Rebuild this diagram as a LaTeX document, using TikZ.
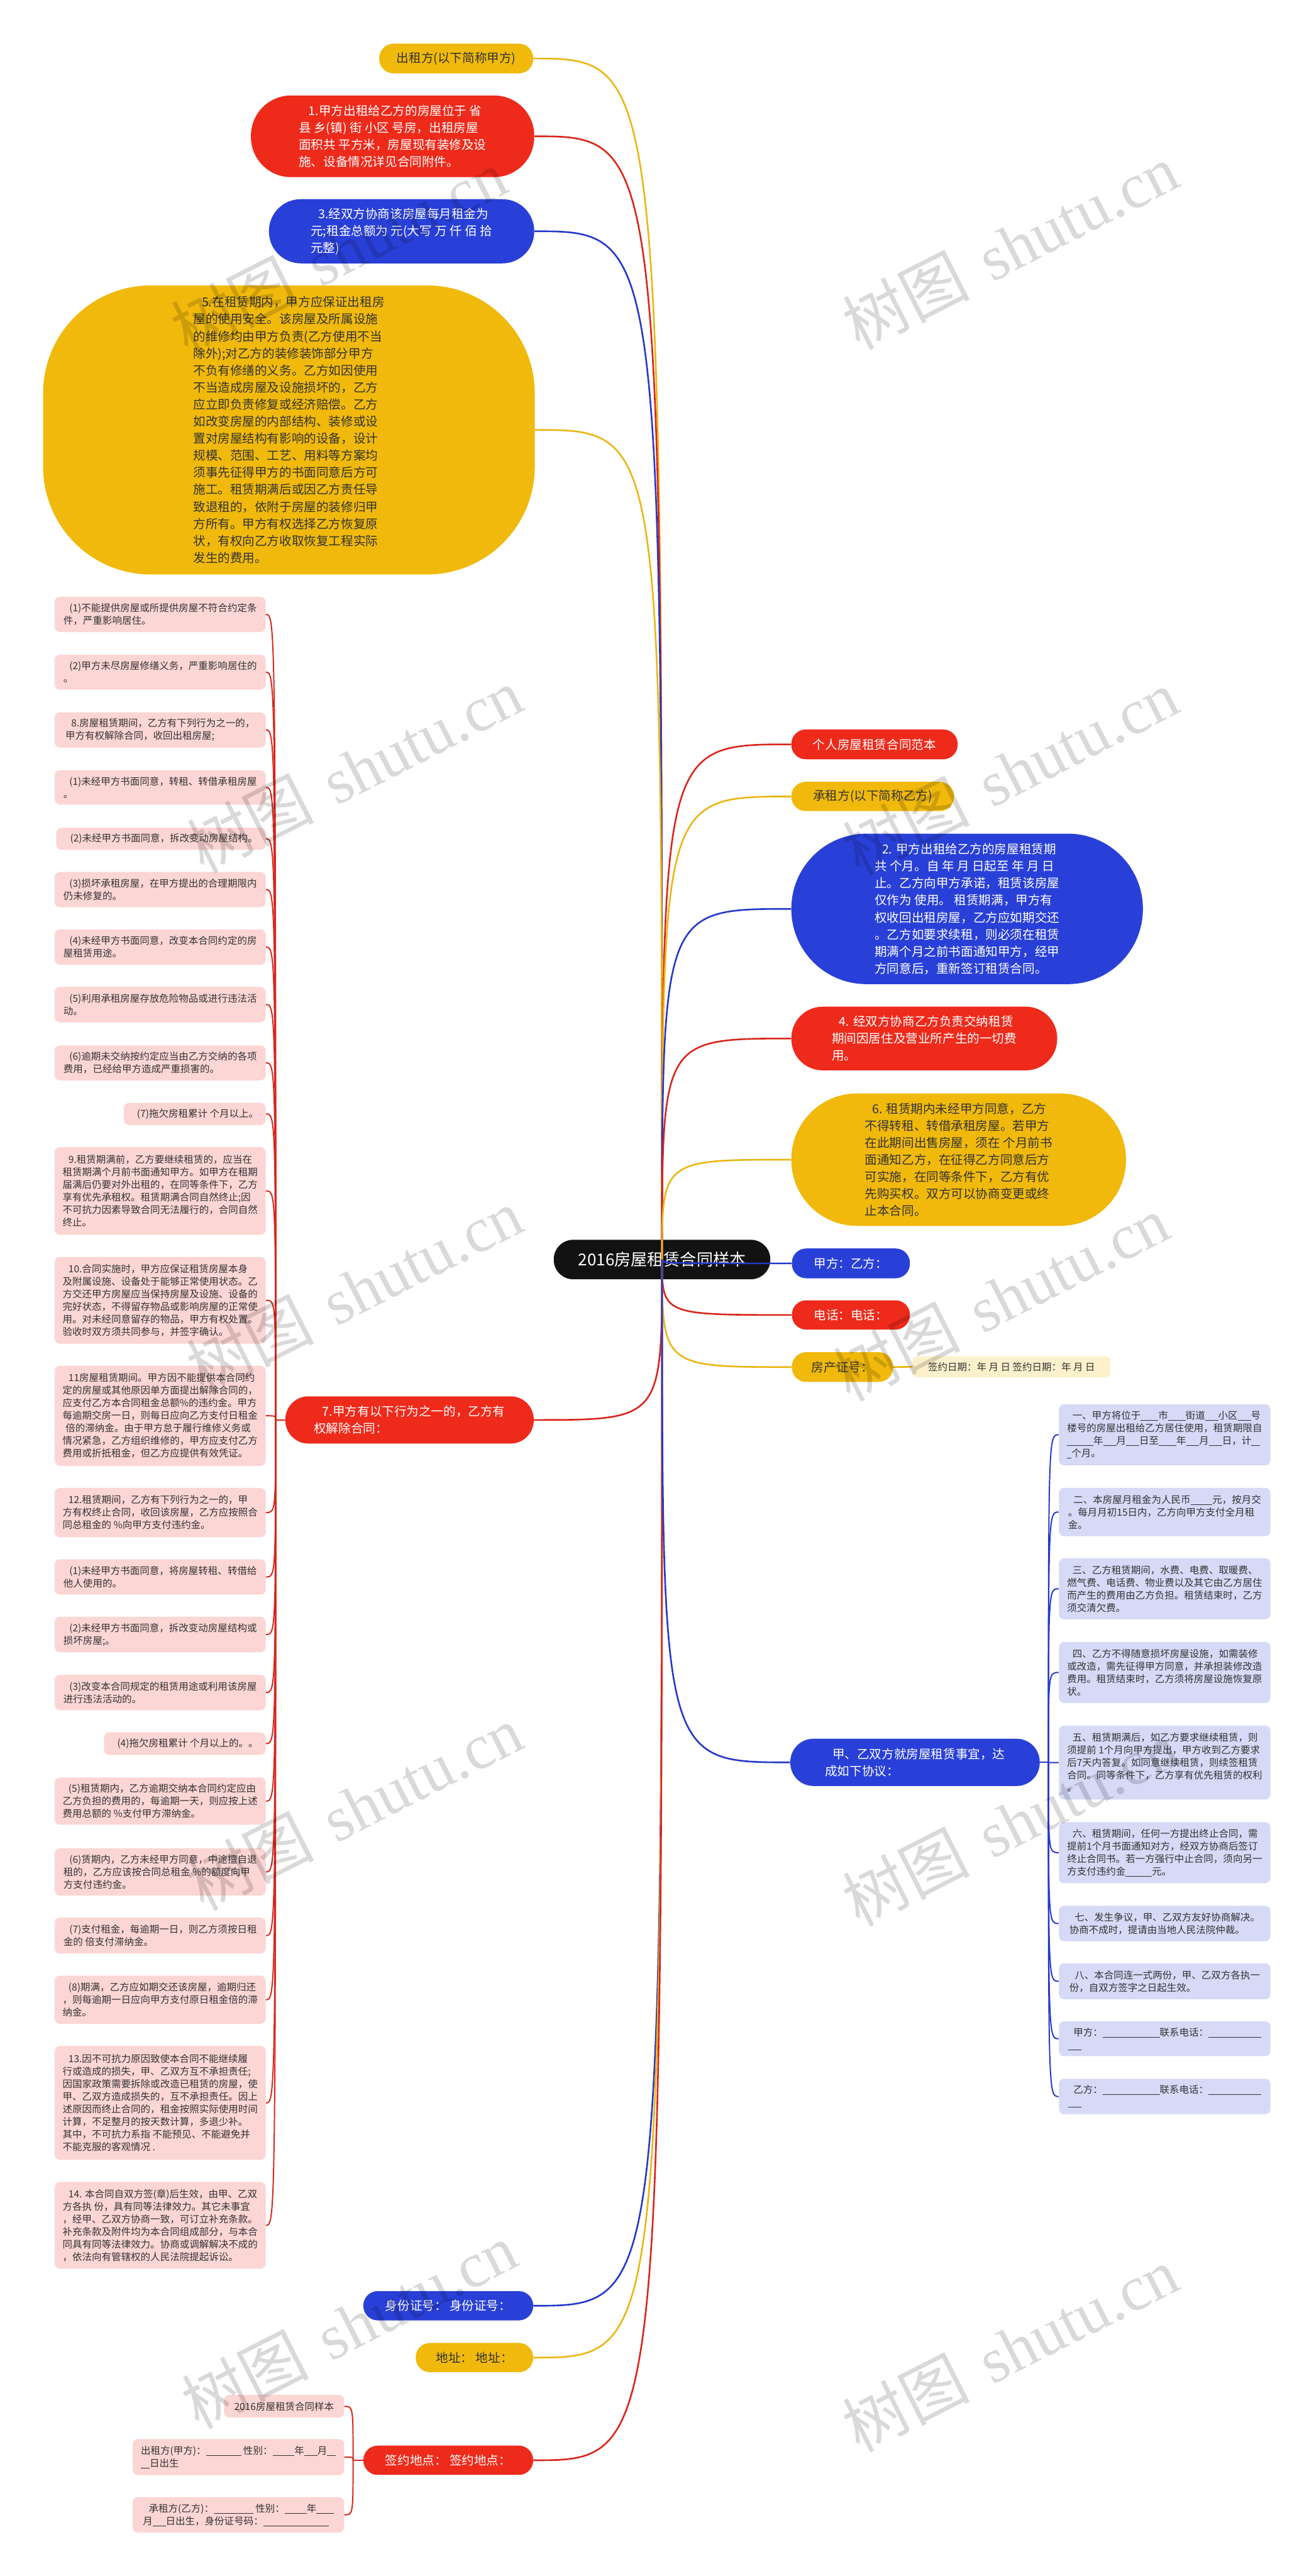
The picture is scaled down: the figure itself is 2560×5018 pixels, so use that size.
\documentclass[tikz,border=0pt]{standalone}
\usepackage{fontspec}
\setmainfont{Noto Sans CJK SC}
\newfontfamily\wmlat{Liberation Serif}
\newcommand\fbig{\fontsize{12pt}{16.6pt}\selectfont}
\newcommand\fsml{\fontsize{9.5pt}{12.25pt}\selectfont}
\newcommand\fctr{\fontsize{16pt}{20pt}\selectfont}
\newlength\bllen
\newcommand\blnk[1]{\setlength\bllen{0.45em}\rule[-0.15em]{#1\bllen}{0.06em}}
\definecolor{cred}{HTML}{EE2A1B}
\definecolor{cblue}{HTML}{2940D8}
\definecolor{cyel}{HTML}{F0B90B}
\definecolor{lred}{HTML}{D9251B}
\definecolor{lblue}{HTML}{2538C8}
\definecolor{lyel}{HTML}{EBB612}
\definecolor{cpink}{HTML}{FCD6D4}
\definecolor{clav}{HTML}{D6DAF7}
\definecolor{cpale}{HTML}{FCF1CC}
\definecolor{ctext}{HTML}{333333}
\pgfdeclarelayer{bg}
\pgfdeclarelayer{mid}
\pgfsetlayers{bg,mid,main}
\tikzset{
  pillnode/.style={inner sep=0pt, align=left, font=\fbig},
  redn/.style={pillnode, fill=cred, text=white},
  bluen/.style={pillnode, fill=cblue, text=white},
  yeln/.style={pillnode, fill=cyel, text=ctext},
  pinkbox/.style={fill=cpink, rounded corners=5pt, inner sep=0pt, align=left, font=\fsml, text=ctext},
  lavbox/.style={pinkbox, fill=clav},
  palebox/.style={pinkbox, fill=cpale},
  mainline/.style={line width=1.6pt},
  subline/.style={line width=1.2pt},
  wm/.style={rotate=27, text=black, opacity=0.15, inner sep=0pt, font=\fontsize{62pt}{62pt}\selectfont}
}
\begin{document}
\begin{tikzpicture}[x=0.5pt,y=-0.5pt]
\useasboundingbox (0,0) rectangle (2560,5018);
\begin{pgfonlayer}{bg}
\fill[white] (0,0) rectangle (2560,5018);
\node[pillnode, fill=black!93, text=white, font=\fctr, minimum width=211pt, minimum height=38.5pt, rounded corners=19pt] (C) at (1290,2453.5) {2016房屋租赁合同样本};
\end{pgfonlayer}

% ---------- first level, left ----------
\node[yeln, minimum width=150pt, minimum height=29pt, rounded corners=14pt] (N0) at (889,114) {出租方(以下简称甲方)};
\node[redn, minimum width=276pt, minimum height=79.5pt, rounded corners=39pt] (N1) at (765,265.5) {\hspace*{0.8em}1.甲方出租给乙方的房屋位于 省\\县 乡(镇) 街 小区 号房，出租房屋\\面积共 平方米，房屋现有装修及设\\施、设备情况详见合同附件。};
\node[bluen, minimum width=258.5pt, minimum height=62.5pt, rounded corners=31pt] (N3) at (782.5,450.5) {\hspace*{0.6em}3.经双方协商该房屋每月租金为\\元;租金总额为 元(大写 万 仟 佰 拾\\元整)};
\node[yeln, minimum width=479pt, minimum height=281.5pt, rounded corners=105pt] (N5) at (563,837.5) {\hspace*{0.7em}5.在租赁期内，甲方应保证出租房\\屋的使用安全。该房屋及所属设施\\的维修均由甲方负责(乙方使用不当\\除外);对乙方的装修装饰部分甲方\\不负有修缮的义务。乙方如因使用\\不当造成房屋及设施损坏的，乙方\\应立即负责修复或经济赔偿。乙方\\如改变房屋的内部结构、装修或设\\置对房屋结构有影响的设备，设计\\规模、范围、工艺、用料等方案均\\须事先征得甲方的书面同意后方可\\施工。租赁期满后或因乙方责任导\\致退租的，依附于房屋的装修归甲\\方所有。甲方有权选择乙方恢复原\\状，有权向乙方收取恢复工程实际\\发生的费用。};
\node[redn, minimum width=242pt, minimum height=46pt, rounded corners=22.5pt] (N7) at (798,2766) {\hspace*{0.7em}7.甲方有以下行为之一的，乙方有\\权解除合同：};
\node[bluen, minimum width=165.5pt, minimum height=28.5pt, rounded corners=14pt] (L1) at (873.5,4491.5) {身份证号： 身份证号：};
\node[yeln, minimum width=114.5pt, minimum height=28.5pt, rounded corners=14pt] (L2) at (924.5,4592.5) {地址： 地址：};
\node[redn, minimum width=165.5pt, minimum height=28.5pt, rounded corners=14pt] (L3) at (873.5,4792.5) {签约地点： 签约地点：};

% ---------- first level, right ----------
\node[redn, minimum width=162pt, minimum height=29pt, rounded corners=14pt] (R1) at (1704,1450) {个人房屋租赁合同范本};
\node[yeln, minimum width=158.5pt, minimum height=28.5pt, rounded corners=14pt] (R2) at (1700.5,1551.5) {承租方(以下简称乙方)};
\node[bluen, minimum width=342.5pt, minimum height=146.5pt, rounded corners=73pt] (R3) at (1884.5,1770.5) {\hspace*{0.6em}2. 甲方出租给乙方的房屋租赁期\\共 个月。自 年 月 日起至 年 月 日\\止。乙方向甲方承诺，租赁该房屋\\仅作为 使用。 租赁期满，甲方有\\权收回出租房屋，乙方应如期交还\\。乙方如要求续租，则必须在租赁\\期满个月之前书面通知甲方，经甲\\方同意后，重新签订租赁合同。};
\node[redn, minimum width=259pt, minimum height=62pt, rounded corners=30.5pt] (R4) at (1801,2023) {\hspace*{0.6em}4. 经双方协商乙方负责交纳租赁\\期间因居住及营业所产生的一切费\\用。};
\node[yeln, minimum width=326pt, minimum height=129pt, rounded corners=64pt] (R5) at (1868,2259) {\hspace*{0.6em}6. 租赁期内未经甲方同意，乙方\\不得转租、转借承租房屋。若甲方\\在此期间出售房屋，须在 个月前书\\面通知乙方，在征得乙方同意后方\\可实施，在同等条件下，乙方有优\\先购买权。双方可以协商变更或终\\止本合同。};
\node[bluen, minimum width=115pt, minimum height=29pt, rounded corners=14pt] (R6) at (1658,2461) {甲方：乙方：};
\node[redn, minimum width=115pt, minimum height=28.5pt, rounded corners=14pt] (R7) at (1658,2561.5) {电话：电话：};
\node[yeln, minimum width=98.5pt, minimum height=29pt, rounded corners=14pt] (R8) at (1641.5,2663) {房产证号：};
\node[palebox, minimum width=193pt, minimum height=20.5pt] (D) at (1971,2662.5) {签约日期：年 月 日 签约日期：年 月 日};
\node[bluen, minimum width=243pt, minimum height=46pt, rounded corners=22.5pt] (R9) at (1783,3433) {\hspace*{0.6em}甲、乙双方就房屋租赁事宜，达\\成如下协议：};

% ---------- left column (children of N7) ----------
\node[pinkbox, anchor=north east, minimum width=205.5pt, minimum height=34.5pt] (a1) at (518,1162) {\hspace*{0.6em}(1)不能提供房屋或所提供房屋不符合约定条\\件，严重影响居住。};
\node[pinkbox, anchor=north east, minimum width=205.5pt, minimum height=34pt] (a2) at (518,1275) {\hspace*{0.6em}(2)甲方未尽房屋修缮义务，严重影响居住的\\。};
\node[pinkbox, anchor=north east, minimum width=205.5pt, minimum height=34.5pt] (a3) at (518,1387) {\hspace*{0.6em}8.房屋租赁期间，乙方有下列行为之一的，\\甲方有权解除合同，收回出租房屋;};
\node[pinkbox, anchor=north east, minimum width=205.5pt, minimum height=33.5pt] (a4) at (518,1500) {\hspace*{0.6em}(1)未经甲方书面同意，转租、转借承租房屋\\。};
\node[pinkbox, anchor=north east, minimum width=204pt, minimum height=21.5pt] (a5) at (518,1612) {\hspace*{0.6em}(2)未经甲方书面同意，拆改变动房屋结构。};
\node[pinkbox, anchor=north east, minimum width=205.5pt, minimum height=34.5pt] (a6) at (518,1698) {\hspace*{0.6em}(3)损坏承租房屋，在甲方提出的合理期限内\\仍未修复的。};
\node[pinkbox, anchor=north east, minimum width=205.5pt, minimum height=34.5pt] (a7) at (518,1810) {\hspace*{0.6em}(4)未经甲方书面同意，改变本合同约定的房\\屋租赁用途。};
\node[pinkbox, anchor=north east, minimum width=205.5pt, minimum height=34.5pt] (a8) at (518,1922) {\hspace*{0.6em}(5)利用承租房屋存放危险物品或进行违法活\\动。};
\node[pinkbox, anchor=north east, minimum width=205.5pt, minimum height=34pt] (a9) at (518,2036) {\hspace*{0.6em}(6)逾期未交纳按约定应当由乙方交纳的各项\\费用，已经给甲方造成严重损害的。};
\node[pinkbox, anchor=north east, minimum width=138pt, minimum height=21.5pt] (a10) at (518,2148) {\hspace*{0.6em}(7)拖欠房租累计 个月以上。};
\node[pinkbox, anchor=north east, minimum width=205.5pt, minimum height=85.5pt] (a11) at (518,2234) {\hspace*{0.6em}9.租赁期满前，乙方要继续租赁的，应当在\\租赁期满个月前书面通知甲方。如甲方在租期\\届满后仍要对外出租的，在同等条件下，乙方\\享有优先承租权。租赁期满合同自然终止;因\\不可抗力因素导致合同无法履行的，合同自然\\终止。};
\node[pinkbox, anchor=north east, minimum width=205.5pt, minimum height=84.5pt] (a12) at (518,2448) {\hspace*{0.6em}10.合同实施时，甲方应保证租赁房屋本身\\及附属设施、设备处于能够正常使用状态。乙\\方交还甲方房屋应当保持房屋及设施、设备的\\完好状态，不得留存物品或影响房屋的正常使\\用。对未经同意留存的物品，甲方有权处置。\\验收时双方须共同参与，并签字确认。};
\node[pinkbox, anchor=north east, minimum width=205.5pt, minimum height=97.5pt] (a13) at (518,2660) {\hspace*{0.6em}11房屋租赁期间。甲方因不能提供本合同约\\定的房屋或其他原因单方面提出解除合同的，\\应支付乙方本合同租金总额\%的违约金。甲方\\每逾期交房一日，则每日应向乙方支付日租金\\\hspace*{0.3em}倍的滞纳金。由于甲方怠于履行维修义务或\\情况紧急，乙方组织维修的，甲方应支付乙方\\费用或折抵租金，但乙方应提供有效凭证。};
\node[pinkbox, anchor=north east, minimum width=205.5pt, minimum height=48pt] (a14) at (518,2898) {\hspace*{0.6em}12.租赁期间，乙方有下列行为之一的，甲\\方有权终止合同，收回该房屋，乙方应按照合\\同总租金的 \%向甲方支付违约金。};
\node[pinkbox, anchor=north east, minimum width=205.5pt, minimum height=34.5pt] (a15) at (518,3037) {\hspace*{0.6em}(1)未经甲方书面同意，将房屋转租、转借给\\他人使用的。};
\node[pinkbox, anchor=north east, minimum width=205.5pt, minimum height=34.5pt] (a16) at (518,3149) {\hspace*{0.6em}(2)未经甲方书面同意，拆改变动房屋结构或\\损坏房屋;。};
\node[pinkbox, anchor=north east, minimum width=205.5pt, minimum height=34.5pt] (a17) at (518,3262) {\hspace*{0.6em}(3)改变本合同规定的租赁用途或利用该房屋\\进行违法活动的。};
\node[pinkbox, anchor=north east, minimum width=157.5pt, minimum height=22pt] (a18) at (518,3374) {\hspace*{0.6em}(4)拖欠房租累计 个月以上的。。};
\node[pinkbox, anchor=north east, minimum width=205.5pt, minimum height=46pt] (a19) at (518,3462) {\hspace*{0.6em}(5)租赁期内，乙方逾期交纳本合同约定应由\\乙方负担的费用的，每逾期一天，则应按上述\\费用总额的 \%支付甲方滞纳金。};
\node[pinkbox, anchor=north east, minimum width=205.5pt, minimum height=46pt] (a20) at (518,3600) {\hspace*{0.6em}(6)赁期内，乙方未经甲方同意，中途擅自退\\租的，乙方应该按合同总租金 \%的额度向甲\\方支付违约金。};
\node[pinkbox, anchor=north east, minimum width=205.5pt, minimum height=35pt] (a21) at (518,3735) {\hspace*{0.6em}(7)支付租金，每逾期一日，则乙方须按日租\\金的 倍支付滞纳金。};
\node[pinkbox, anchor=north east, minimum width=205.5pt, minimum height=47pt] (a22) at (518,3848) {\hspace*{0.6em}(8)期满，乙方应如期交还该房屋，逾期归还\\，则每逾期一日应向甲方支付原日租金倍的滞\\纳金。};
\node[pinkbox, anchor=north east, minimum width=205.5pt, minimum height=111pt] (a23) at (518,3985) {\hspace*{0.6em}13.因不可抗力原因致使本合同不能继续履\\行或造成的损失，甲、乙双方互不承担责任;\\因国家政策需要拆除或改造已租赁的房屋，使\\甲、乙双方造成损失的，互不承担责任。因上\\述原因而终止合同的，租金按照实际使用时间\\计算，不足整月的按天数计算，多退少补。\\其中，不可抗力系指 不能预见、不能避免并\\不能克服的客观情况 .};
\node[pinkbox, anchor=north east, minimum width=205.5pt, minimum height=84.5pt] (a24) at (518,4250) {\hspace*{0.6em}14. 本合同自双方签(章)后生效，由甲、乙双\\方各执 份，具有同等法律效力。其它未事宜\\，经甲、乙双方协商一致，可订立补充条款。\\补充条款及附件均为本合同组成部分，与本合\\同具有同等法律效力。协商或调解解决不成的\\，依法向有管辖权的人民法院提起诉讼。};

% ---------- right column (children of R9) ----------
\node[lavbox, anchor=north west, minimum width=206pt, minimum height=59.5pt] (b1) at (2063,2735) {\hspace*{0.55em}一、甲方将位于\blnk{4}市\blnk{4}街道\blnk{3}小区\blnk{3}号\\楼号的房屋出租给乙方居住使用，租赁期限自\\\blnk{6}年\blnk{3}月\blnk{3}日至\blnk{4}年\blnk{3}月\blnk{3}日，计\blnk{2}\\\blnk{1}个月。};
\node[lavbox, anchor=north west, minimum width=206pt, minimum height=47pt] (b2) at (2063,2898) {\hspace*{0.55em}二、本房屋月租金为人民币\blnk{5}元，按月交\\。每月月初15日内，乙方向甲方支付全月租\\金。};
\node[lavbox, anchor=north west, minimum width=206pt, minimum height=59.5pt] (b3) at (2063,3035) {\hspace*{0.55em}三、乙方租赁期间，水费、电费、取暖费、\\燃气费、电话费、物业费以及其它由乙方居住\\而产生的费用由乙方负担。租赁结束时，乙方\\须交清欠费。};
\node[lavbox, anchor=north west, minimum width=206pt, minimum height=59.5pt] (b4) at (2063,3198) {\hspace*{0.55em}四、乙方不得随意损坏房屋设施，如需装修\\或改造，需先征得甲方同意，并承担装修改造\\费用。租赁结束时，乙方须将房屋设施恢复原\\状。};
\node[lavbox, anchor=north west, minimum width=206pt, minimum height=72pt] (b5) at (2063,3361) {\hspace*{0.55em}五、租赁期满后，如乙方要求继续租赁，则\\须提前 1个月向甲方提出，甲方收到乙方要求\\后7天内答复。如同意继续租赁，则续签租赁\\合同。同等条件下，乙方享有优先租赁的权利\\。};
\node[lavbox, anchor=north west, minimum width=206pt, minimum height=59.5pt] (b6) at (2063,3549) {\hspace*{0.55em}六、租赁期间，任何一方提出终止合同，需\\提前1个月书面通知对方，经双方协商后签订\\终止合同书。若一方强行中止合同，须向另一\\方支付违约金\blnk{6}元。};
\node[lavbox, anchor=north west, minimum width=206pt, minimum height=34.5pt] (b7) at (2063,3712) {\hspace*{0.55em}七、发生争议，甲、乙双方友好协商解决。\\协商不成时，提请由当地人民法院仲裁。};
\node[lavbox, anchor=north west, minimum width=206pt, minimum height=35pt] (b8) at (2063,3824) {\hspace*{0.55em}八、本合同连一式两份，甲、乙双方各执一\\份，自双方签字之日起生效。};
\node[lavbox, anchor=north west, minimum width=206pt, minimum height=34pt] (b9) at (2063,3937) {\hspace*{0.55em}甲方：\blnk{13}联系电话：\blnk{12}\\\blnk{3}};
\node[lavbox, anchor=north west, minimum width=206pt, minimum height=34.5pt] (b10) at (2063,4049) {\hspace*{0.55em}乙方：\blnk{13}联系电话：\blnk{12}\\\blnk{3}};

% ---------- bottom (children of L3) ----------
\node[pinkbox, anchor=north east, minimum width=117pt, minimum height=22pt] (c1) at (671,4665) {2016房屋租赁合同样本};
\node[pinkbox, anchor=north east, minimum width=206pt, minimum height=35pt] (c2) at (671,4751) {出租方(甲方)：\blnk{8} 性别：\blnk{5}年\blnk{3}月\blnk{2}\\\blnk{2}日出生};
\node[pinkbox, anchor=north east, minimum width=206pt, minimum height=34.5pt] (c3) at (671,4864) {\hspace*{0.6em}承租方(乙方)：\blnk{9} 性别：\blnk{5}年\blnk{4}\\月\blnk{3}日出生，身份证号码：\blnk{15}};

% ---------- connectors ----------
\begin{pgfonlayer}{mid}
\draw[mainline, lyel] (C.center) .. controls (C.center |- N0.east) .. (N0.east);
\draw[mainline, lred] (C.center) .. controls (C.center |- N1.east) .. (N1.east);
\draw[mainline, lblue] (C.center) .. controls (C.center |- N3.east) .. (N3.east);
\draw[mainline, lyel] (C.center) .. controls (C.center |- N5.east) .. (N5.east);
\draw[mainline, lred] (C.center) .. controls (C.center |- N7.east) .. (N7.east);
\draw[mainline, lblue] (C.center) .. controls (C.center |- L1.east) .. (L1.east);
\draw[mainline, lyel] (C.center) .. controls (C.center |- L2.east) .. (L2.east);
\draw[mainline, lred] (C.center) .. controls (C.center |- L3.east) .. (L3.east);
\draw[mainline, lred] (C.center) .. controls (C.center |- R1.west) .. (R1.west);
\draw[mainline, lyel] (C.center) .. controls (C.center |- R2.west) .. (R2.west);
\draw[mainline, lblue] (C.center) .. controls (C.center |- R3.west) .. (R3.west);
\draw[mainline, lred] (C.center) .. controls (C.center |- R4.west) .. (R4.west);
\draw[mainline, lyel] (C.center) .. controls (C.center |- R5.west) .. (R5.west);
\draw[mainline, lblue] (C.center) .. controls (C.center |- R6.west) .. (R6.west);
\draw[mainline, lred] (C.center) .. controls (C.center |- R7.west) .. (R7.west);
\draw[mainline, lyel] (C.center) .. controls (C.center |- R8.west) .. (R8.west);
\draw[mainline, lblue] (C.center) .. controls (C.center |- R9.west) .. (R9.west);
\draw[mainline, lyel] (R8.east) -- (D.west);
\coordinate (s7) at (537,2766);
\draw[subline, lred] (N7.west) -- (s7);
\foreach \i in {1,...,24} {\draw[subline, lred] (s7) .. controls (s7 |- a\i.east) .. (a\i.east);}
\coordinate (s9) at (2043,3433);
\draw[subline, lblue] (R9.east) -- (s9);
\foreach \i in {1,...,10} {\draw[subline, lblue] (s9) .. controls (s9 |- b\i.west) .. (b\i.west);}
\coordinate (s3) at (688,4792.5);
\draw[subline, lred] (L3.west) -- (s3);
\foreach \i in {1,2,3} {\draw[subline, lred] (s3) .. controls (s3 |- c\i.east) .. (c\i.east);}
\end{pgfonlayer}

% ---------- watermarks ----------
\node[wm] (w1) at (660,490) {树图\hspace{0.35em}{\wmlat shutu.cn}};
\node[wm] (w2) at (690,1500) {树图\hspace{0.35em}{\wmlat shutu.cn}};
\node[wm] (w3) at (690,2514) {树图\hspace{0.35em}{\wmlat shutu.cn}};
\node[wm] (w4) at (690,3521) {树图\hspace{0.35em}{\wmlat shutu.cn}};
\node[wm] (w5) at (680,4530) {树图\hspace{0.35em}{\wmlat shutu.cn}};
\node[wm] (w6) at (1968,480) {树图\hspace{0.35em}{\wmlat shutu.cn}};
\node[wm] (w7) at (1968,1504) {树图\hspace{0.35em}{\wmlat shutu.cn}};
\node[wm] (w8) at (1950,2528) {树图\hspace{0.35em}{\wmlat shutu.cn}};
\node[wm] (w9) at (1968,3552) {树图\hspace{0.35em}{\wmlat shutu.cn}};
\node[wm] (w10) at (1968,4576) {树图\hspace{0.35em}{\wmlat shutu.cn}};
\end{tikzpicture}
\end{document}
